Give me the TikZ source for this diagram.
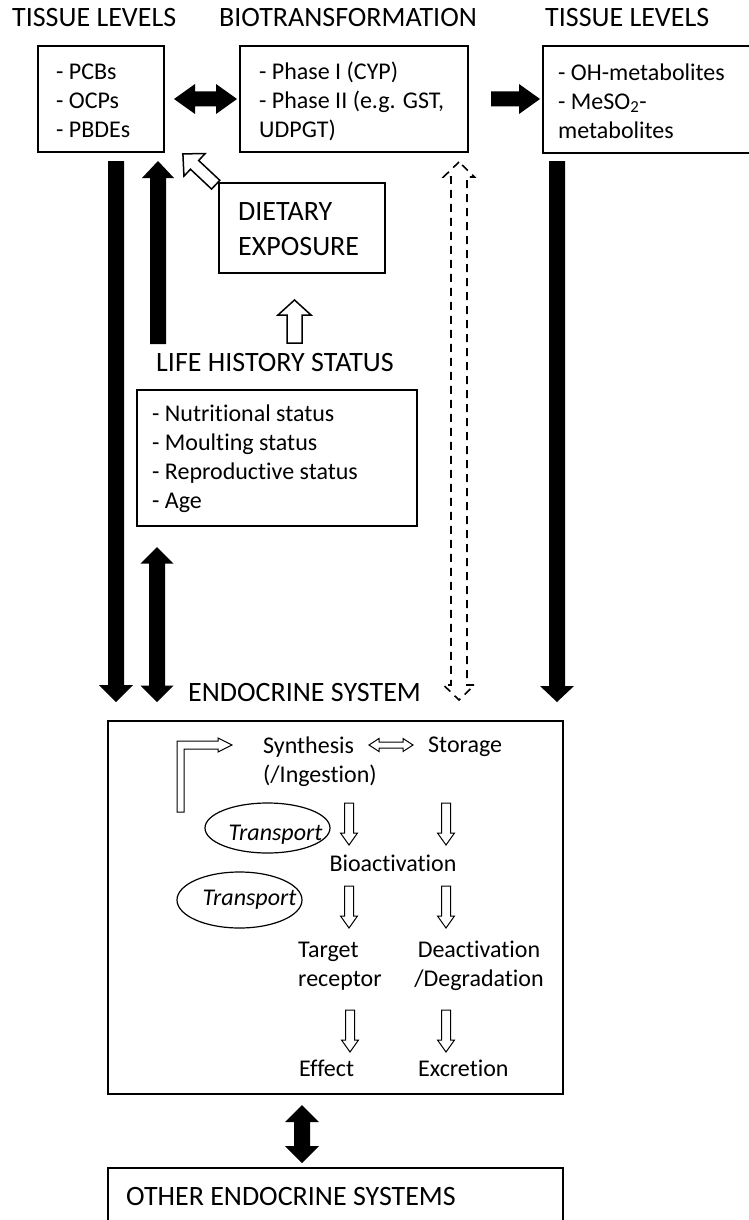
\documentclass[tikz,border=0pt]{standalone}
\usepackage{fontspec}
\setmainfont{Carlito}[Ligatures=NoCommon]
\usetikzlibrary{shapes.geometric}
\newcommand{\SgArrow}[7]{\begin{scope}[shift={#2},rotate=#3]\path[#1] (0,#5) -- ({#4-#7},#5) -- ({#4-#7},#6) -- (#4,0) -- ({#4-#7},-#6) -- ({#4-#7},-#5) -- (0,-#5) -- cycle;\end{scope}}
\newcommand{\DbArrow}[7]{\begin{scope}[shift={#2},rotate=#3]\path[#1] (0,0) -- (#7,#6) -- (#7,#5) -- ({#4-#7},#5) -- ({#4-#7},#6) -- (#4,0) -- ({#4-#7},-#6) -- ({#4-#7},-#5) -- (#7,-#5) -- (#7,-#6) -- cycle;\end{scope}}
\tikzset{
  box/.style={draw, line width=1.3pt, inner sep=0pt},
  txt/.style={inner sep=0pt, font=\fontsize{24}{29}\selectfont, align=left},
  hdr/.style={inner sep=0pt, font=\fontsize{28}{35}\selectfont, align=left},
  solidarrow/.style={fill=black},
  hollowbig/.style={draw, fill=white, line width=1.5pt, line join=miter},
  hollowsmall/.style={draw, fill=white, line width=1pt, line join=miter},
  dasharrow/.style={draw, line width=1.6pt, dash pattern=on 8pt off 6pt},
  oval/.style={draw, ellipse, line width=1.2pt, inner sep=0pt}
}
\begin{document}
\begin{tikzpicture}[x=1pt, y=-1pt]
\useasboundingbox[fill=white] (0,0) rectangle (748,1220);
% headers
\node[hdr, anchor=west] (h1) at (12,18) {TISSUE LEVELS};
\node[hdr, anchor=west] (h2) at (219,18) {BIOTRANSFORMATION};
\node[hdr, anchor=west] (h3) at (545,18) {TISSUE LEVELS};
% top boxes
\node[box, minimum width=126pt, minimum height=106pt] (b1) at (101,99) {};
\node[box, minimum width=228pt, minimum height=106pt] (b2) at (354,99) {};
\node[box, minimum width=209pt, minimum height=107pt] (b3) at (647.5,99.5) {};
\node[txt, anchor=west] (t1) at (56,101) {- PCBs\\- OCPs\\- PBDEs};
\node[txt, anchor=west] (t2) at (259,101) {- Phase I (CYP)\\- Phase II (e.g. GST,\\UDPGT)};
\node[txt, anchor=west] (t3) at (558,101) {- OH-metabolites\\- MeSO\textsubscript{2}-\\metabolites};
% dietary
\node[box, minimum width=166pt, minimum height=90pt] (diet) at (302,228) {};
\node[hdr, anchor=west] (tdiet) at (238,229) {DIETARY\\EXPOSURE};
% life history
\node[hdr, anchor=west] (hlife) at (156,363) {LIFE HISTORY STATUS};
\node[box, minimum width=280pt, minimum height=136pt] (life) at (277,458) {};
\node[txt, anchor=west] (tlife) at (152,459) {- Nutritional status\\- Moulting status\\- Reproductive status\\- Age};
% endocrine
\node[hdr, anchor=west] (hendo) at (188,693) {ENDOCRINE SYSTEM};
\node[box, minimum width=455pt, minimum height=373pt] (endo) at (335.5,907.5) {};
\node[box, minimum width=455pt, minimum height=72pt] (other) at (335.5,1204) {};
\node[hdr, anchor=west] (hother) at (126,1196) {OTHER ENDOCRINE SYSTEMS};
% endocrine contents
\node[txt, anchor=west] (syn) at (263,762) {Synthesis\\(/Ingestion)};
\node[txt, anchor=west] (sto) at (428,747) {Storage};
\node[txt] (bio) at (393,863) {Bioactivation};
\node[txt, anchor=west] (tar) at (298,966) {Target\\receptor};
\node[txt, align=center] (dea) at (479,966) {Deactivation\\/Degradation};
\node[txt, anchor=west] (eff) at (299,1068) {Effect};
\node[txt, anchor=west] (exc) at (418,1068) {Excretion};
\node[oval, minimum width=125pt, minimum height=50pt] (e1) at (267.5,828) {};
\node[txt, font=\fontsize{24}{29}\selectfont\itshape] (tr1) at (275.5,835) {Transport};
\node[oval, minimum width=125pt, minimum height=56pt] (e2) at (239.5,900) {};
\node[txt, font=\fontsize{24}{29}\selectfont\itshape] (tr2) at (249.5,900) {Transport};
% solid arrows
\DbArrow{solidarrow}{(174,99)}{0}{63}{7.5}{15}{21}
\SgArrow{solidarrow}{(491,99)}{0}{49}{7.5}{15}{21}
\SgArrow{solidarrow}{(116,161)}{-90}{541}{8}{17}{17}
\SgArrow{solidarrow}{(158,344)}{90}{183}{8}{16}{17}
\DbArrow{solidarrow}{(157,547)}{-90}{155}{8}{16.5}{16.5}
\SgArrow{solidarrow}{(557,161)}{-90}{541}{8}{17}{16}
\DbArrow{solidarrow}{(302,1105)}{-90}{58}{8}{17}{17}
% dashed hollow double arrow
\DbArrow{dasharrow}{(459,162)}{-90}{538}{8}{15.5}{15}
% hollow big arrows
\SgArrow{hollowbig}{(215.7,184.7)}{136.8}{45}{6}{15.5}{16}
\SgArrow{hollowbig}{(294.5,343)}{90}{43}{7.5}{16.5}{15}
% small hollow arrows in endocrine box
\DbArrow{hollowsmall}{(369,745)}{0}{44}{3}{6.5}{10}
\SgArrow{hollowsmall}{(349,803)}{-90}{42}{4.5}{8.5}{12}
\SgArrow{hollowsmall}{(446,803)}{-90}{42}{4.5}{8.5}{12}
\SgArrow{hollowsmall}{(349,886)}{-90}{42}{4.5}{8.5}{12}
\SgArrow{hollowsmall}{(446,886)}{-90}{42}{4.5}{8.5}{12}
\SgArrow{hollowsmall}{(350,1010)}{-90}{42}{4.5}{8.5}{12}
\SgArrow{hollowsmall}{(446,1010)}{-90}{42}{4.5}{8.5}{12}
% elbow arrow
\draw[hollowsmall] (177,812) -- (177,741) -- (218,741) -- (218,738) -- (232,745) -- (218,752) -- (218,749) -- (184,749) -- (184,812) -- cycle;
\end{tikzpicture}
\end{document}
